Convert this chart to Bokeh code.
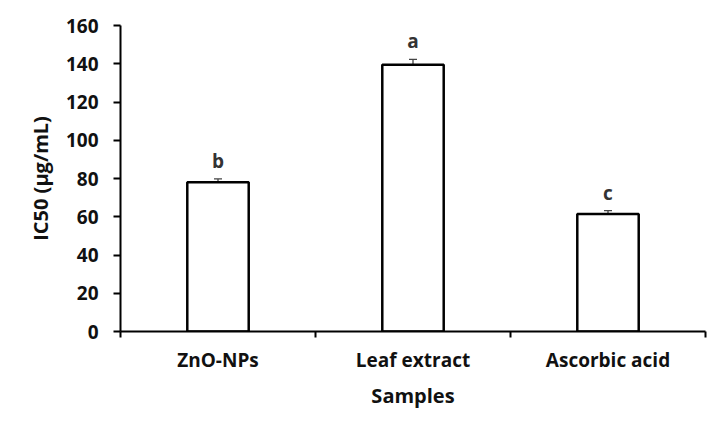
from bokeh.plotting import figure
from bokeh.models import ColumnDataSource, FixedTicker, LinearAxis, Range1d, Whisker, TeeHead
from bokeh.core.properties import value
from bokeh.embed import file_html
from bokeh.resources import INLINE

samples = ["ZnO-NPs", "Leaf extract", "Ascorbic acid"]
ic50 = [78.0, 139.5, 61.5]
err = [1.8, 2.8, 1.7]
letters = ["b", "a", "c"]
y_ticks = [0, 20, 40, 60, 80, 100, 120, 140, 160]

FONT = "Open Sans"
pos = [i + 0.5 for i in range(len(samples))]
src = ColumnDataSource(dict(
    x=pos, top=ic50, lo=[v - e for v, e in zip(ic50, err)],
    hi=[v + e for v, e in zip(ic50, err)], lab=letters, name=samples))

p = figure(width=728, height=437, output_backend="svg", toolbar_location=None,
           x_range=Range1d(0, len(samples)), y_range=Range1d(0, 160),
           x_axis_type=None, y_axis_type=None,
           min_border_left=120, min_border_right=23, min_border_top=25, min_border_bottom=106)
p.outline_line_color = None
p.xgrid.visible = False
p.ygrid.visible = False
p.background_fill_color = "white"
p.border_fill_color = "white"

p.vbar(x="x", top="top", bottom=0, width=0.315, source=src,
       fill_color="white", line_color="black", line_width=2.5)

w = Whisker(base="x", upper="hi", lower="lo", source=src, line_color="#444444", line_width=1.3,
            upper_head=TeeHead(size=8, line_color="#444444", line_width=1.3),
            lower_head=TeeHead(size=8, line_color="#444444", line_width=1.3))
p.add_layout(w)

p.text(x="x", y="hi", text="lab", source=src, text_align="center", text_baseline="bottom",
       y_offset=-5, text_font=value(FONT), text_font_style="bold", text_font_size="19px",
       text_color="#333333")

xa = LinearAxis(ticker=FixedTicker(ticks=pos, minor_ticks=[0, 1, 2, 3]),
                major_label_overrides={pp: s for pp, s in zip(pos, samples)})
xa.axis_label = "Samples"
xa.axis_line_width = 2
xa.axis_line_color = "black"
xa.major_tick_line_color = None
xa.major_tick_out = 0
xa.major_tick_in = 0
xa.minor_tick_line_color = "black"
xa.minor_tick_line_width = 2
xa.minor_tick_out = 6
xa.minor_tick_in = 0
xa.major_label_text_font = FONT
xa.major_label_text_font_style = "bold"
xa.major_label_text_font_size = "19px"
xa.major_label_text_color = "#111111"
xa.major_label_standoff = 9
xa.axis_label_text_font = FONT
xa.axis_label_text_font_style = "bold"
xa.axis_label_text_font_size = "20px"
xa.axis_label_text_color = "#111111"
xa.axis_label_standoff = 6
p.add_layout(xa, "below")

ya = LinearAxis(ticker=FixedTicker(ticks=y_ticks, minor_ticks=[]))
ya.axis_label = "IC50 (µg/mL)"
ya.axis_line_width = 2
ya.axis_line_color = "black"
ya.major_tick_line_color = "black"
ya.major_tick_line_width = 2
ya.major_tick_out = 7
ya.major_tick_in = 0
ya.major_label_text_font = FONT
ya.major_label_text_font_style = "bold"
ya.major_label_text_font_size = "19px"
ya.major_label_text_color = "#111111"
ya.major_label_standoff = 15
ya.axis_label_text_font = FONT
ya.axis_label_text_font_style = "bold"
ya.axis_label_text_font_size = "20px"
ya.axis_label_text_color = "#111111"
ya.axis_label_standoff = 9
p.add_layout(ya, "left")

open("out.html", "w").write(file_html(p, INLINE))
